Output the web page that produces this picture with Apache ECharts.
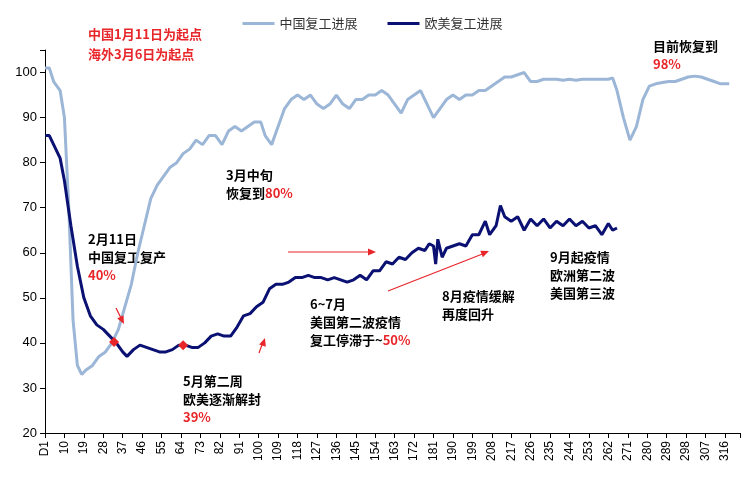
<!DOCTYPE html><html><head><meta charset="utf-8"><script src="https://cdn.jsdelivr.net/npm/echarts@6/dist/echarts.min.js"></script>
<style>body{margin:0}#c{width:745px;height:490px}</style></head><body><div id="c"></div><script>
const seriesNames=['中国复工进展','欧美复工进展'];
const chinaDays=[1,3,5,8,10,12,14,16,18,20,23,26,29,32,35,38,41,44,47,50,53,56,59,62,65,68,71,74,77,80,83,86,89,92,95,98,101,103,106,109,112,115,118,121,124,127,130,133,136,139,142,145,148,151,154,157,160,163,166,169,172,175,178,181,184,187,190,193,196,199,202,205,208,211,214,217,220,223,226,229,232,235,238,241,244,247,250,253,256,259,262,264,266,269,272,275,278,281,284,287,290,293,296,299,302,305,308,311,314,318];
const chinaVals=[101,101,98,96,90,70,45,35,33,34,35,37,38,40,43,48,53,60,66,72,75,77,79,80,82,83,85,84,86,86,84,87,88,87,88,89,89,86,84,88,92,94,95,94,95,93,92,93,95,93,92,94,94,95,95,96,95,93,91,94,95,96,93,90,92,94,95,94,95,95,96,96,97,98,99,99,99.5,100,98,98,98.5,98.5,98.5,98.3,98.5,98.3,98.5,98.5,98.5,98.5,98.5,98.8,96,90,85,88,94,97,97.5,97.8,98,98,98.5,99,99.2,99,98.5,98,97.5,97.5];
const euDays=[1,3,5,8,10,13,16,19,22,25,28,31,34,37,39,42,45,48,51,54,57,60,63,66,69,72,75,78,81,84,87,90,93,96,99,102,105,108,111,114,117,120,123,126,129,132,135,138,141,144,147,150,153,156,159,162,165,168,171,174,177,179,181,182,183,185,187,190,193,196,199,202,205,207,210,212,214,217,220,223,226,229,232,235,238,241,244,247,250,253,256,259,262,264,266];
const euVals=[86,86,84,81,76,66,57,50,46,44,43,41.5,40,38,37,38.5,39.5,39,38.5,38,38,38.5,39.5,39.5,39,39,40,41.5,42,41.5,41.5,43.5,46,46.5,48,49,52,53,53,53.5,54.5,54.5,55,54.5,54.5,54,54.5,54,53.5,54,55,54,56,56,58,57.5,59,58.5,60,61,60.5,62,61.5,57.5,63,59,61,61.5,62,61.5,64,64,67,64,66,70.5,68,67,68,65,67.5,66,67.5,65.5,67,66,67.5,66,67,65.5,66,64,66.5,65,65.5];
const xTickLabels=['D1','10','19','28','37','46','55','64','73','82','91','100','109','118','127','136','145','154','163','172','181','190','199','208','217','226','235','244','253','262','271','280','289','298','307','316'];
const ch=echarts.init(document.getElementById('c'));
const red='#e8262a',txt='#000';
const F='bold 13px "Noto Sans CJK SC"';
const T=(x,y,text)=>({type:'text',left:x,top:y,style:{text,fill:txt,font:F,lineHeight:18,rich:{r:{fill:red,font:F,lineHeight:18}}}});
const A=(x1,y1,x2,y2)=>({type:'line',shape:{x1,y1,x2,y2},style:{stroke:red,lineWidth:1.2},z:10});
const H=(x,y,ang)=>({type:'polygon',x,y,rotation:ang,shape:{points:[[0,0],[-8,-3.5],[-8,3.5]]},style:{fill:red},z:10});
ch.setOption({
animation:false,
legend:{top:12,left:'center',itemWidth:32,itemGap:30,textStyle:{fontSize:13,color:'#333',fontFamily:'Noto Sans CJK SC'},data:[{name:seriesNames[0],icon:'path://M0,0H10V1H0Z'},{name:seriesNames[1],icon:'path://M0,0H10V1H0Z'}]},
grid:{left:45,right:5,top:50,bottom:57},
xAxis:{type:'value',min:0,max:322,interval:9,axisLine:{lineStyle:{color:'#000'}},axisTick:{lineStyle:{color:'#000'}},splitLine:{show:false},
 axisLabel:{rotate:90,color:'#000',fontSize:12,fontFamily:'Liberation Sans',formatter:v=>xTickLabels[Math.round(v/9)]||''}},
yAxis:{type:'value',min:20,max:105,interval:10,axisLine:{show:true,lineStyle:{color:'#000'}},axisTick:{show:true,lineStyle:{color:'#000'}},splitLine:{show:false},
 axisLabel:{color:'#000',fontSize:13,fontFamily:'Liberation Sans',formatter:v=>v>100?'':v}},
series:[
{name:seriesNames[0],type:'line',symbol:'none',color:'#9bb6d6',lineStyle:{width:3,color:'#9bb6d6'},data:chinaDays.map((d,i)=>[d-1,chinaVals[i]])},
{name:seriesNames[1],type:'line',symbol:'none',color:'#0a1172',lineStyle:{width:3,color:'#0a1172'},z:3,data:euDays.map((d,i)=>[d-1,euVals[i]]),
 markPoint:{symbol:'diamond',symbolSize:10,itemStyle:{color:red},label:{show:false},data:[{coord:[32,40.2]},{coord:[64,39.5]}]}}
],
graphic:[
{type:'text',left:88,top:24,style:{text:'中国1月11日为起点\n海外3月6日为起点',fill:red,font:F,lineHeight:20}},
T(226,166,'3月中旬\n恢复到{r|80%}'),
T(88,230,'2月11日\n中国复工复产\n{r|40%}'),
T(183,372,'5月第二周\n欧美逐渐解封\n{r|39%}'),
T(310,295,'6~7月\n美国第二波疫情\n复工停滞于~{r|50%}'),
T(442,287,'8月疫情缓解\n再度回升'),
T(550,248,'9月起疫情\n欧洲第二波\n美国第三波'),
T(653,37,'目前恢复到\n{r|98%}'),
A(288,252,372,252),H(376,252,0),
A(388,291,485,253),H(489,251,0.38),
A(116,308,122,320),H(124,324,-1.1),
A(259,353,263,342),H(265,338,1.25)
]});
</script></body></html>
